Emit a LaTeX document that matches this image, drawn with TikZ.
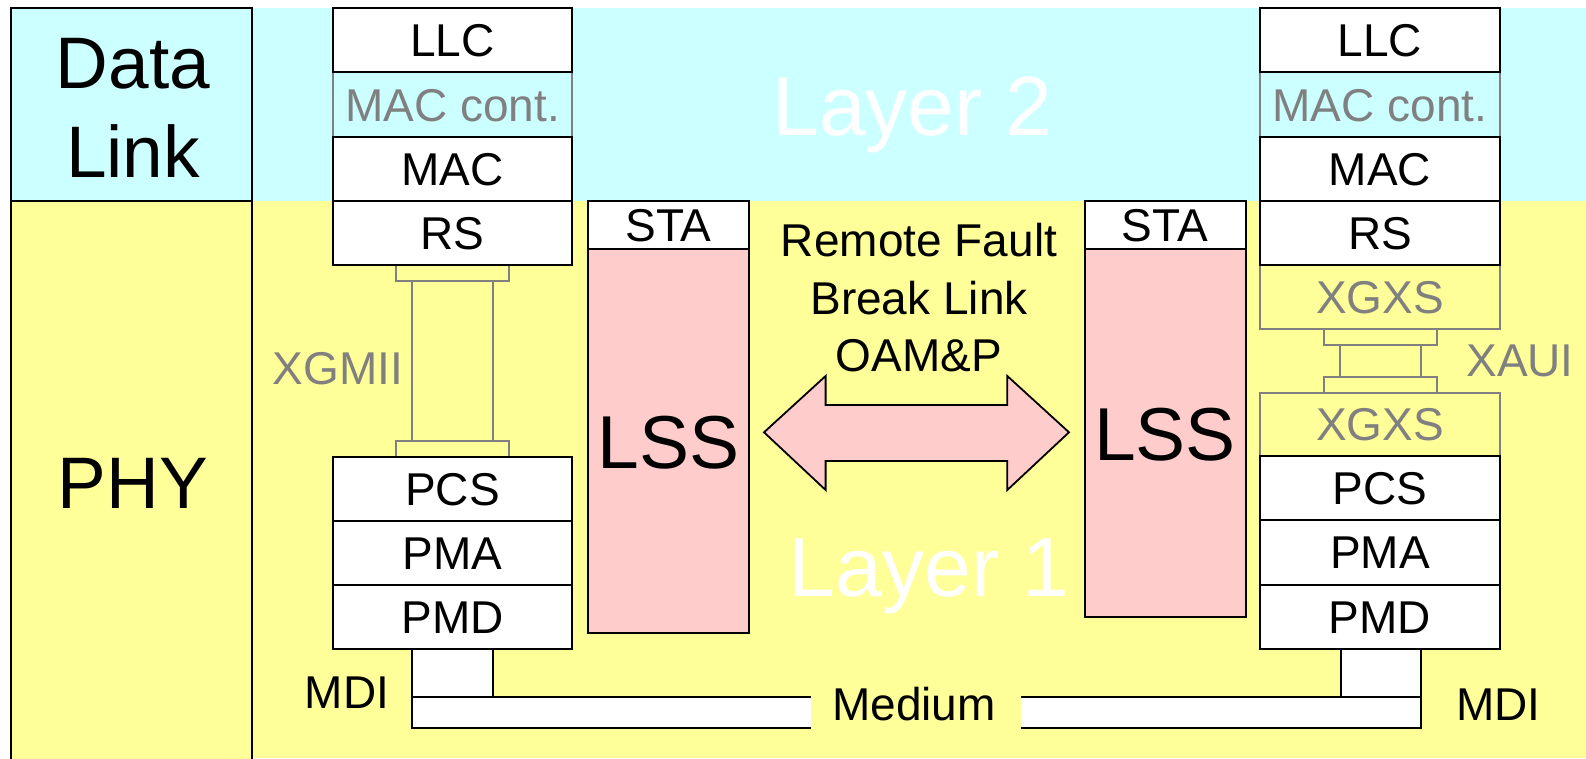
\documentclass[tikz,border=0pt]{standalone}
\usepackage{fontspec}
\setmainfont{Liberation Sans}
\definecolor{cyanbg}{HTML}{CCFFFF}
\definecolor{yellowbg}{HTML}{FFFF99}
\definecolor{pinkbox}{HTML}{FFCCCC}
\definecolor{graycol}{HTML}{808080}
\tikzset{
  blackline/.style={draw=black, line width=2pt},
  grayline/.style={draw=graycol, line width=2pt},
  lbl/.style={font=\fontsize{46}{50}\selectfont, text height=33pt, text depth=0pt, inner sep=0pt},
  graylbl/.style={lbl, text=graycol},
  blk/.style={lbl, blackline, fill=white, minimum height=64.3pt},
  grayblk/.style={lbl, grayline, text=graycol, minimum height=64.3pt},
  bigtxt/.style={font=\fontsize{73}{80}\selectfont, text height=53pt, text depth=0pt, inner sep=0pt},
  lsstxt/.style={font=\fontsize{75}{80}\selectfont, text height=54pt, text depth=0pt, inner sep=0pt},
  layertxt/.style={font=\fontsize{84}{90}\selectfont, text height=61pt, text depth=0pt, inner sep=0pt, text=white},
}
\begin{document}
\begin{tikzpicture}[x=1pt,y=-1pt]
\useasboundingbox (0,0) rectangle (1586,758);
% backgrounds
\begin{scope}
\clip (0,0) rectangle (1586,758);
\fill[cyanbg] (252,8) rectangle (1586,201);
\fill[yellowbg] (252,201) rectangle (1586,758);
\draw[blackline, fill=cyanbg] (11,8) rectangle (252,201);
\draw[blackline, fill=yellowbg] (11,201) rectangle (252,790);
\end{scope}
\node[bigtxt] (data) at (133,62) {Data};
\node[bigtxt] (link) at (133,151) {Link};
\node[bigtxt] (phy) at (133,482) {PHY};
% layer labels
\node[layertxt] (layer2) at (912.5,105) {Layer 2};
\node[layertxt] (layer1) at (929,566) {Layer 1};

% left XGMII connector
\draw[grayline, fill=yellowbg] (395.7,265) rectangle (509,281);
\draw[grayline, fill=yellowbg] (412,281) rectangle (492.7,441);
\draw[grayline, fill=yellowbg] (395.7,441) rectangle (509,456.7);
\node[graylbl] (xgmii) at (337.8,367.5) {XGMII};

% left stack
\node[grayblk, minimum width=239pt] (maccL) at (452.5,104.5) {MAC cont.};
\node[blk, minimum width=239pt] (llcL) at (452.5,40.3) {LLC};
\node[blk, minimum width=239pt] (macL) at (452.5,168.8) {MAC};
\node[blk, minimum width=239pt] (rsL) at (452.5,233.3) {RS};
\node[blk, minimum width=239pt, minimum height=64.2pt] (pcsL) at (452.5,488.9) {PCS};
\node[blk, minimum width=239pt, minimum height=64.2pt] (pmaL) at (452.5,553.1) {PMA};
\node[blk, minimum width=239pt, minimum height=64.2pt] (pmdL) at (452.5,617.2) {PMD};

% right XAUI connector
\node[grayblk, fill=yellowbg, minimum width=240pt, minimum height=64pt] (xgxsU) at (1380,297) {XGXS};
\node[grayblk, fill=yellowbg, minimum width=240pt, minimum height=63.3pt] (xgxsD) at (1380,424.3) {XGXS};
\draw[grayline, fill=yellowbg] (1323.7,329) rectangle (1437.3,345);
\draw[grayline, fill=yellowbg] (1340,345) rectangle (1421,376.7);
\draw[grayline, fill=yellowbg] (1323.7,376.7) rectangle (1437.3,392.7);
\node[graylbl] (xaui) at (1520,360) {XAUI};

% right stack
\node[grayblk, minimum width=240pt] (maccR) at (1380,104.5) {MAC cont.};
\node[blk, minimum width=240pt] (llcR) at (1380,40.3) {LLC};
\node[blk, minimum width=240pt] (macR) at (1380,168.8) {MAC};
\node[blk, minimum width=240pt] (rsR) at (1380,233.3) {RS};
\node[blk, minimum width=240pt, minimum height=64pt] (pcsR) at (1380,488) {PCS};
\node[blk, minimum width=240pt, minimum height=64.5pt] (pmaR) at (1380,552.3) {PMA};
\node[blk, minimum width=240pt, minimum height=64.2pt] (pmdR) at (1380,617) {PMD};

% STA / LSS
\node[blk, minimum width=161pt, minimum height=48.6pt] (staL) at (668.5,225) {STA};
\node[lsstxt, blackline, fill=pinkbox, minimum width=161pt, minimum height=384pt] (lssL) at (668.5,441.3) {LSS};
\node[blk, minimum width=161pt, minimum height=48.6pt] (staR) at (1165,225) {STA};
\node[lsstxt, blackline, fill=pinkbox, minimum width=161pt, minimum height=367.4pt] (lssR) at (1165,433) {LSS};

% middle text
\node[lbl] (rf) at (919,240) {Remote Fault};
\node[lbl] (bl) at (919,298) {Break Link};
\node[lbl] (oam) at (919,355) {OAM\&P};

% double arrow
\draw[blackline, line width=1.8pt, fill=pinkbox, line join=miter]
  (764,432.3) -- (825.6,376) -- (825.6,405) -- (1007.3,405) -- (1007.3,376)
  -- (1069,432.3) -- (1007.3,490) -- (1007.3,461) -- (825.6,461) -- (825.6,490) -- cycle;

% medium
\draw[blackline, fill=white] (412,649) rectangle (493.3,696.7);
\draw[blackline, fill=white] (811,696.7) -- (412,696.7) -- (412,728.3) -- (811,728.3);
\draw[blackline, fill=white] (1340.5,649) rectangle (1420.6,696.7);
\draw[blackline, fill=white] (1021,696.7) -- (1420.6,696.7) -- (1420.6,728.3) -- (1021,728.3);
\node[lbl] (medium) at (914,704) {Medium};
\node[lbl] (mdiL) at (347,691.7) {MDI};
\node[lbl] (mdiR) at (1498.5,704) {MDI};
\end{tikzpicture}
\end{document}
